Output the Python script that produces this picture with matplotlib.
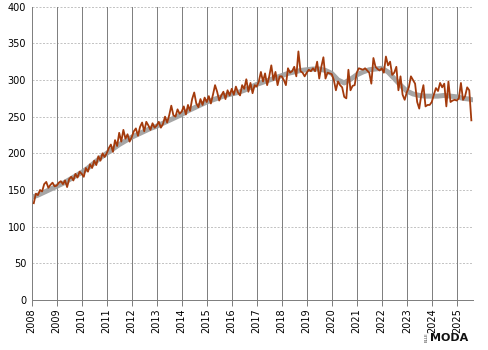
import numpy as np
import matplotlib
matplotlib.use('Agg')
import matplotlib.pyplot as plt

# monthly values, Feb 2008 .. Aug 2025
v2008 = [132, 145, 143, 150, 148, 158, 161, 153, 157, 160, 155]
v2009 = [156, 160, 162, 158, 163, 154, 165, 168, 163, 172, 167, 175]
v2010 = [172, 168, 180, 175, 185, 180, 190, 184, 196, 190, 200, 195]
v2011 = [200, 207, 212, 202, 218, 210, 228, 216, 232, 220, 226, 216]
v2012 = [222, 230, 234, 224, 236, 242, 230, 243, 238, 232, 241, 235]
v2013 = [238, 243, 235, 240, 250, 242, 252, 265, 252, 250, 260, 254]
v2014 = [257, 264, 253, 266, 258, 274, 283, 268, 263, 274, 266, 276]
v2015 = [270, 278, 268, 280, 293, 284, 272, 279, 284, 274, 286, 279]
v2016 = [288, 280, 291, 283, 279, 293, 288, 301, 284, 296, 282, 293]
v2017 = [291, 298, 311, 298, 309, 293, 305, 320, 300, 311, 293, 305]
v2018 = [305, 300, 293, 316, 310, 312, 318, 305, 339, 312, 310, 305]
v2019 = [310, 314, 312, 316, 312, 325, 302, 318, 331, 302, 310, 309]
v2020 = [308, 300, 286, 298, 293, 290, 277, 275, 314, 286, 292, 293]
v2021 = [310, 316, 315, 314, 316, 313, 310, 295, 330, 318, 315, 313]
v2022 = [316, 310, 332, 320, 325, 307, 310, 318, 286, 305, 280, 273]
v2023 = [283, 290, 305, 300, 295, 270, 261, 280, 293, 264, 266, 266]
v2024 = [270, 280, 289, 285, 296, 290, 295, 264, 298, 270, 272, 273]
v2025 = [272, 275, 296, 273, 278, 290, 286, 245]

# quarterly trend, 2008.0 .. 2025.5, then end point
trend = [140, 143, 147, 151, 155, 159, 164, 169, 174, 180, 187, 194,
         200, 206, 212, 217, 222, 226, 230, 234, 237, 241, 245, 249,
         253, 258, 262, 266, 270, 273, 276, 279, 281, 283, 286, 290,
         294, 297, 300, 303, 306, 309, 311, 313, 314, 315, 315, 313,
         309, 300, 296, 301, 307, 311, 314, 315, 316, 311, 302, 293,
         285, 281, 279, 278, 278, 278, 279, 278, 277, 275, 274]
trend_end = 273

years = list(range(2008, 2026))

values = (v2008 + v2009 + v2010 + v2011 + v2012 + v2013 + v2014 + v2015 + v2016
          + v2017 + v2018 + v2019 + v2020 + v2021 + v2022 + v2023 + v2024 + v2025)
t = 2008 + 1 / 12 + np.arange(len(values)) / 12
tt = list(2008 + 0.25 * np.arange(len(trend))) + [2025.62]
tv = trend + [trend_end]

fig = plt.figure(figsize=(4.89, 3.5), dpi=100)
ax = fig.add_axes([0.0648, 0.1429, 0.902, 0.838])

ax.plot(tt, tv, color='#9c9c9c', lw=3.6, alpha=0.9, solid_capstyle='round', zorder=3)
ax.plot(t, values, color='#a33a0c', lw=1.3, zorder=4)

ax.set_xlim(2008, 2025.64)
ax.set_ylim(0, 400)
ax.set_yticks(range(0, 401, 50))
ax.set_xticks(years)
ax.set_xticklabels([str(y) for y in years], rotation=90)

for y in range(50, 401, 50):
    ax.axhline(y, color='#c4c4c4', lw=0.72, ls=(0, (2, 1.5)), zorder=1)
for x in years:
    ax.axvline(x, color='#808080', lw=0.72, zorder=2, snap=True)

for s in ['top', 'right', 'left']:
    ax.spines[s].set_visible(False)
ax.spines['bottom'].set_color('#808080')
ax.spines['bottom'].set_linewidth(0.72)
ax.tick_params(axis='y', length=0, labelsize=7, pad=4)
ax.tick_params(axis='x', length=4, width=0.72, color='#808080', labelsize=7, pad=2)

fig.text(0.958, 0.02, 'MODA', ha='right', va='bottom', fontsize=8,
         fontweight='bold', color='#111111')
fig.text(0.877, 0.022, 'ELLE', ha='right', va='bottom', fontsize=3,
         rotation=90, color='#333333')

fig.savefig('out.png', dpi=100)
